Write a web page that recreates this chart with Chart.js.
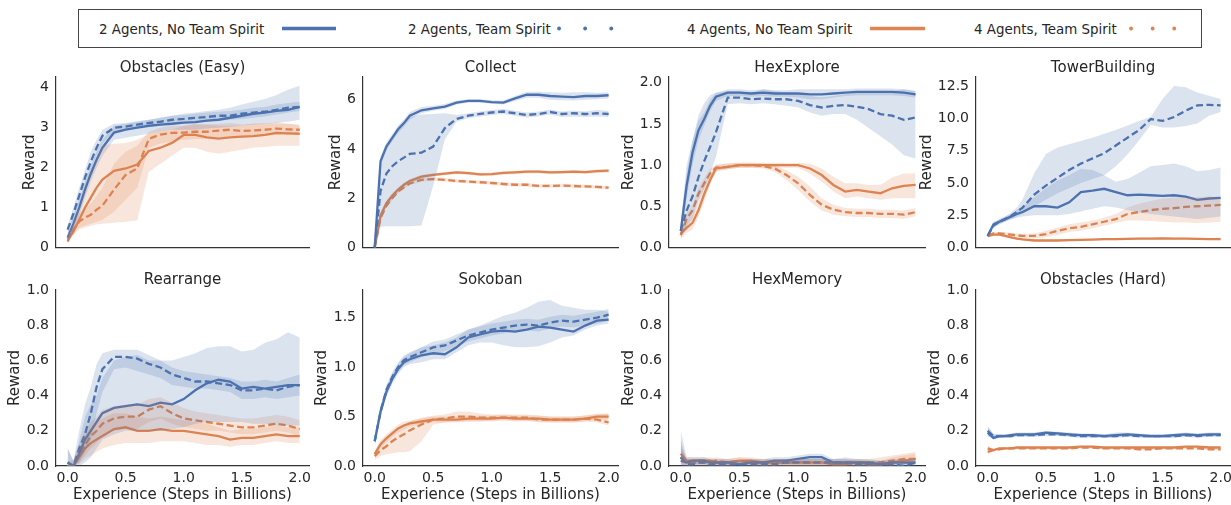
<!DOCTYPE html>
<html>
<head>
<meta charset="utf-8">
<script src="https://cdn.jsdelivr.net/npm/chart.js@4.4.1/dist/chart.umd.min.js"></script>
<style>
  body { margin: 0; width: 1231px; height: 505px; background: #fff; position: relative; overflow: hidden; font-family: "DejaVu Sans"; }
  #legendBox { position: absolute; left: 78px; top: 9px; width: 1124px; height: 39px; box-sizing: border-box; border: 1px solid #444; }
  .legText { position: absolute; top: 22px; font-size: 13.4px; line-height: 16px; color: #262626; white-space: nowrap; }
  #legendLines { position: absolute; left: 0; top: 0; }
</style>
</head>
<body>
<div id="legendBox"></div>
<svg id="legendLines" width="1231" height="60"></svg>
<script>
// x positions (billions of steps) shared by every curve
const steps = [0, 0.05, 0.1, 0.15, 0.2, 0.25, 0.3, 0.4, 0.5, 0.6, 0.7, 0.8, 0.9, 1.0, 1.1, 1.2, 1.3, 1.4, 1.5, 1.6, 1.7, 1.8, 1.9, 2.0];
const xTickLabels = ["0.0", "0.5", "1.0", "1.5", "2.0"];
const seriesNames = ["2 Agents, No Team Spirit", "2 Agents, Team Spirit", "4 Agents, No Team Spirit", "4 Agents, Team Spirit"];
const panelTitles = ["Obstacles (Easy)", "Collect", "HexExplore", "TowerBuilding", "Rearrange", "Sokoban", "HexMemory", "Obstacles (Hard)"];

// Obstacles (Easy)
const easyTicks = ["0", "1", "2", "3", "4"];
const easyA2 = [0.25, 0.6, 1.0, 1.45, 1.85, 2.2, 2.5, 2.88, 2.95, 3.0, 3.05, 3.08, 3.1, 3.13, 3.14, 3.18, 3.2, 3.25, 3.3, 3.35, 3.38, 3.42, 3.45, 3.52];
const easyA2Lo = [0.1, 0.4, 0.8, 1.25, 1.65, 2.0, 2.3, 2.7, 2.75, 2.8, 2.85, 2.9, 2.95, 2.95, 2.95, 2.98, 3.0, 3.02, 3.05, 3.08, 3.1, 3.12, 3.15, 3.2];
const easyA2Hi = [0.4, 0.8, 1.2, 1.65, 2.05, 2.4, 2.7, 3.05, 3.1, 3.15, 3.2, 3.25, 3.3, 3.35, 3.38, 3.42, 3.45, 3.5, 3.58, 3.65, 3.72, 3.82, 3.95, 4.05];
const easyA2ts = [0.45, 0.85, 1.3, 1.75, 2.15, 2.5, 2.8, 3.0, 3.03, 3.08, 3.12, 3.15, 3.2, 3.22, 3.25, 3.27, 3.3, 3.3, 3.35, 3.38, 3.4, 3.45, 3.5, 3.52];
const easyA2tsLo = [0.35, 0.7, 1.1, 1.5, 1.9, 2.3, 2.6, 2.9, 2.95, 3.0, 3.02, 3.05, 3.1, 3.12, 3.15, 3.15, 3.18, 3.2, 3.22, 3.25, 3.28, 3.33, 3.38, 3.42];
const easyA2tsHi = [0.55, 1.0, 1.5, 1.95, 2.4, 2.7, 2.95, 3.1, 3.12, 3.16, 3.2, 3.25, 3.3, 3.32, 3.35, 3.38, 3.4, 3.42, 3.45, 3.5, 3.52, 3.58, 3.62, 3.65];
const easyA4 = [0.2, 0.4, 0.7, 1.0, 1.25, 1.5, 1.7, 1.92, 1.98, 2.08, 2.42, 2.5, 2.62, 2.82, 2.82, 2.76, 2.73, 2.76, 2.78, 2.79, 2.82, 2.87, 2.86, 2.85];
const easyA4Lo = [0.15, 0.3, 0.45, 0.5, 0.55, 0.58, 0.6, 0.62, 0.65, 0.68, 1.9, 2.1, 2.3, 2.5, 2.5, 2.4, 2.35, 2.4, 2.45, 2.5, 2.52, 2.55, 2.55, 2.55];
const easyA4Hi = [0.3, 0.6, 1.0, 1.4, 1.8, 2.2, 2.55, 2.6, 2.62, 2.7, 2.85, 2.9, 2.95, 3.05, 3.1, 3.08, 3.05, 3.05, 3.05, 3.1, 3.12, 3.1, 3.1, 3.05];
const easyA4ts = [0.15, 0.45, 0.65, 0.75, 0.82, 0.95, 1.05, 1.45, 1.82, 1.98, 2.72, 2.83, 2.87, 2.88, 2.9, 2.9, 2.93, 2.95, 2.92, 2.93, 2.95, 2.98, 2.96, 2.95];
const easyA4tsLo = [0.1, 0.35, 0.5, 0.55, 0.6, 0.65, 0.7, 0.9, 1.2, 1.5, 2.5, 2.6, 2.65, 2.7, 2.72, 2.72, 2.75, 2.78, 2.75, 2.78, 2.8, 2.82, 2.82, 2.82];
const easyA4tsHi = [0.25, 0.6, 0.85, 1.0, 1.1, 1.3, 1.5, 2.1, 2.4, 2.55, 2.9, 3.0, 3.05, 3.05, 3.08, 3.08, 3.1, 3.12, 3.08, 3.1, 3.1, 3.14, 3.1, 3.08];

// Collect
const collectTicks = ["0", "2", "4", "6"];
const collectA2 = [0, 3.5, 4.1, 4.45, 4.8, 5.05, 5.35, 5.57, 5.65, 5.72, 5.88, 5.95, 5.95, 5.9, 5.88, 6.05, 6.2, 6.2, 6.15, 6.12, 6.1, 6.15, 6.15, 6.18];
const collectA2Lo = [0, 3.3, 3.95, 4.3, 4.65, 4.9, 5.2, 5.45, 5.55, 5.62, 5.8, 5.88, 5.88, 5.83, 5.8, 5.95, 6.08, 6.08, 6.0, 5.98, 5.97, 6.0, 6.02, 6.05];
const collectA2Hi = [0.1, 3.7, 4.25, 4.6, 4.95, 5.2, 5.5, 5.7, 5.75, 5.82, 5.97, 6.02, 6.02, 5.98, 5.97, 6.15, 6.32, 6.32, 6.3, 6.28, 6.3, 6.3, 6.28, 6.3];
const collectA2ts = [0, 2.3, 3.0, 3.3, 3.5, 3.65, 3.8, 3.85, 4.1, 4.85, 5.22, 5.35, 5.42, 5.48, 5.52, 5.45, 5.38, 5.42, 5.5, 5.42, 5.45, 5.42, 5.45, 5.42];
const collectA2tsLo = [0, 0.85, 0.87, 0.87, 0.87, 0.87, 0.87, 0.9, 2.5, 4.4, 5.1, 5.25, 5.32, 5.38, 5.42, 5.35, 5.28, 5.32, 5.4, 5.3, 5.32, 5.3, 5.32, 5.3];
const collectA2tsHi = [0.2, 3.3, 4.0, 4.4, 4.8, 5.05, 5.3, 5.4, 5.42, 5.45, 5.38, 5.45, 5.52, 5.58, 5.62, 5.55, 5.48, 5.52, 5.6, 5.52, 5.56, 5.52, 5.58, 5.55];
const collectA4 = [0, 1.3, 1.8, 2.1, 2.35, 2.55, 2.7, 2.88, 2.95, 3.0, 3.05, 3.02, 2.97, 2.98, 3.03, 3.05, 3.08, 3.08, 3.05, 3.06, 3.08, 3.06, 3.1, 3.12];
const collectA4Lo = [0, 1.2, 1.7, 2.0, 2.27, 2.47, 2.62, 2.8, 2.88, 2.93, 2.98, 2.95, 2.9, 2.91, 2.96, 2.98, 3.01, 3.01, 2.98, 2.99, 3.01, 2.99, 3.03, 3.05];
const collectA4Hi = [0.05, 1.4, 1.9, 2.2, 2.43, 2.63, 2.78, 2.96, 3.02, 3.07, 3.12, 3.09, 3.04, 3.05, 3.1, 3.12, 3.15, 3.15, 3.12, 3.13, 3.15, 3.13, 3.17, 3.19];
const collectA4ts = [0, 1.2, 1.7, 2.0, 2.28, 2.45, 2.6, 2.75, 2.78, 2.75, 2.7, 2.68, 2.65, 2.62, 2.58, 2.55, 2.55, 2.5, 2.5, 2.52, 2.5, 2.48, 2.46, 2.43];
const collectA4tsLo = [0, 1.1, 1.62, 1.93, 2.2, 2.38, 2.53, 2.68, 2.71, 2.68, 2.63, 2.61, 2.58, 2.55, 2.51, 2.48, 2.48, 2.43, 2.43, 2.45, 2.43, 2.41, 2.39, 2.36];
const collectA4tsHi = [0.05, 1.3, 1.78, 2.07, 2.36, 2.52, 2.67, 2.82, 2.85, 2.82, 2.77, 2.75, 2.72, 2.69, 2.65, 2.62, 2.62, 2.57, 2.57, 2.59, 2.57, 2.55, 2.53, 2.5];

// HexExplore
const hexExploreTicks = ["0.0", "0.5", "1.0", "1.5", "2.0"];
const hexExploreA2 = [0.2, 0.75, 1.15, 1.42, 1.56, 1.72, 1.83, 1.88, 1.88, 1.87, 1.88, 1.87, 1.87, 1.87, 1.86, 1.86, 1.87, 1.88, 1.89, 1.89, 1.89, 1.89, 1.88, 1.86];
const hexExploreA2Lo = [0.12, 0.6, 1.0, 1.3, 1.48, 1.65, 1.78, 1.84, 1.84, 1.83, 1.84, 1.83, 1.83, 1.82, 1.8, 1.8, 1.82, 1.84, 1.85, 1.85, 1.85, 1.85, 1.84, 1.82];
const hexExploreA2Hi = [0.28, 0.9, 1.3, 1.54, 1.64, 1.79, 1.88, 1.92, 1.92, 1.91, 1.92, 1.91, 1.91, 1.92, 1.92, 1.92, 1.92, 1.92, 1.93, 1.93, 1.93, 1.93, 1.92, 1.9];
const hexExploreA2ts = [0.2, 0.45, 0.62, 0.85, 1.05, 1.22, 1.4, 1.82, 1.82, 1.8, 1.81, 1.8, 1.8, 1.78, 1.73, 1.7, 1.72, 1.73, 1.71, 1.68, 1.62, 1.6, 1.55, 1.58];
const hexExploreA2tsLo = [0.12, 0.25, 0.35, 0.55, 0.72, 0.9, 1.1, 1.74, 1.75, 1.74, 1.75, 1.74, 1.72, 1.7, 1.64, 1.6, 1.62, 1.62, 1.55, 1.45, 1.35, 1.25, 1.12, 1.08];
const hexExploreA2tsHi = [0.3, 1.0, 1.3, 1.6, 1.75, 1.85, 1.88, 1.9, 1.9, 1.88, 1.92, 1.9, 1.88, 1.86, 1.84, 1.82, 1.84, 1.86, 1.88, 1.88, 1.88, 1.9, 1.92, 1.9];
const hexExploreA4 = [0.17, 0.24, 0.3, 0.45, 0.65, 0.82, 0.96, 0.98, 1.0, 1.0, 1.0, 1.0, 1.0, 1.0, 0.96, 0.88, 0.76, 0.68, 0.7, 0.68, 0.66, 0.72, 0.75, 0.76];
const hexExploreA4Lo = [0.1, 0.18, 0.22, 0.36, 0.56, 0.76, 0.92, 0.95, 0.97, 0.97, 0.97, 0.97, 0.97, 0.97, 0.9, 0.8, 0.68, 0.6, 0.62, 0.6, 0.58, 0.6, 0.6, 0.6];
const hexExploreA4Hi = [0.24, 0.3, 0.38, 0.54, 0.74, 0.88, 1.0, 1.02, 1.03, 1.03, 1.03, 1.03, 1.03, 1.03, 1.02, 0.96, 0.86, 0.78, 0.78, 0.76, 0.76, 0.85, 0.9, 0.9];
const hexExploreA4ts = [0.15, 0.35, 0.45, 0.65, 0.78, 0.9, 0.97, 0.98, 1.0, 1.0, 0.99, 0.96, 0.88, 0.78, 0.64, 0.52, 0.46, 0.43, 0.42, 0.42, 0.41, 0.41, 0.4, 0.43];
const hexExploreA4tsLo = [0.1, 0.28, 0.38, 0.57, 0.72, 0.85, 0.93, 0.95, 0.97, 0.97, 0.96, 0.92, 0.82, 0.7, 0.56, 0.45, 0.4, 0.38, 0.37, 0.37, 0.36, 0.36, 0.35, 0.38];
const hexExploreA4tsHi = [0.2, 0.42, 0.52, 0.72, 0.84, 0.95, 1.01, 1.02, 1.03, 1.03, 1.02, 1.0, 0.94, 0.86, 0.74, 0.6, 0.52, 0.48, 0.47, 0.47, 0.46, 0.46, 0.45, 0.48];

// TowerBuilding
const towerTicks = ["0.0", "2.5", "5.0", "7.5", "10.0", "12.5"];
const towerA2 = [0.9, 1.8, 2.0, 2.2, 2.4, 2.6, 2.75, 3.2, 3.2, 3.1, 3.5, 4.3, 4.4, 4.55, 4.3, 4.05, 4.1, 4.05, 4.0, 4.05, 3.95, 3.7, 3.8, 3.85];
const towerA2Lo = [0.8, 1.6, 1.8, 2.0, 2.2, 2.3, 2.4, 2.5, 2.5, 2.5, 2.6, 2.8, 3.0, 3.2, 3.1, 2.9, 2.7, 2.6, 2.5, 2.4, 2.3, 2.2, 2.3, 2.4];
const towerA2Hi = [1.0, 2.0, 2.2, 2.4, 2.6, 2.9, 3.2, 3.9, 4.6, 5.2, 5.6, 6.1, 6.0, 5.6, 5.1, 5.3, 5.8, 6.3, 6.4, 6.5, 6.3, 5.9, 6.0, 6.2];
const towerA2ts = [0.9, 1.7, 2.0, 2.2, 2.45, 2.75, 3.1, 4.1, 4.8, 5.4, 6.0, 6.5, 6.9, 7.3, 7.9, 8.5, 9.1, 9.95, 9.8, 10.1, 10.6, 11.0, 11.05, 11.0];
const towerA2tsLo = [0.8, 1.5, 1.8, 2.0, 2.2, 2.4, 2.6, 3.2, 3.7, 4.2, 4.6, 5.0, 5.3, 5.6, 6.3, 7.2, 8.3, 9.5, 9.3, 9.3, 9.4, 9.6, 10.2, 10.5];
const towerA2tsHi = [1.0, 1.9, 2.2, 2.4, 2.7, 3.1, 3.75, 5.75, 7.25, 7.75, 8.0, 8.25, 8.5, 8.8, 9.1, 9.45, 9.8, 10.1, 11.5, 12.5, 12.4, 12.0, 11.75, 11.5];
const towerA4 = [0.88, 1.0, 1.0, 0.9, 0.8, 0.7, 0.63, 0.55, 0.55, 0.55, 0.58, 0.6, 0.62, 0.65, 0.65, 0.68, 0.7, 0.7, 0.72, 0.7, 0.7, 0.68, 0.66, 0.65];
const towerA4Lo = [0.8, 0.92, 0.92, 0.82, 0.72, 0.62, 0.55, 0.47, 0.47, 0.47, 0.5, 0.52, 0.54, 0.57, 0.57, 0.6, 0.62, 0.62, 0.64, 0.62, 0.62, 0.6, 0.58, 0.57];
const towerA4Hi = [0.96, 1.08, 1.08, 0.98, 0.88, 0.78, 0.71, 0.63, 0.63, 0.63, 0.66, 0.68, 0.7, 0.73, 0.73, 0.76, 0.78, 0.78, 0.8, 0.78, 0.78, 0.76, 0.74, 0.73];
const towerA4ts = [0.9, 1.1, 1.1, 1.05, 1.0, 0.95, 0.9, 0.9, 1.05, 1.3, 1.5, 1.6, 1.8, 2.0, 2.2, 2.6, 2.75, 2.9, 3.0, 3.05, 3.15, 3.2, 3.25, 3.3];
const towerA4tsLo = [0.8, 1.0, 1.0, 0.9, 0.85, 0.8, 0.75, 0.7, 0.8, 1.0, 1.2, 1.3, 1.5, 1.7, 1.9, 2.1, 2.1, 2.05, 2.0, 1.95, 1.95, 1.9, 1.95, 2.0];
const towerA4tsHi = [1.0, 1.2, 1.2, 1.2, 1.15, 1.1, 1.05, 1.1, 1.3, 1.55, 1.8, 1.95, 2.1, 2.3, 2.6, 3.1, 3.4, 3.6, 3.8, 3.85, 3.9, 3.9, 3.95, 3.9];

// Rearrange
const rearrangeTicks = ["0.0", "0.2", "0.4", "0.6", "0.8", "1.0"];
const rearrangeA2 = [0.02, 0.0, 0.07, 0.15, 0.2, 0.25, 0.3, 0.33, 0.34, 0.35, 0.34, 0.36, 0.35, 0.38, 0.43, 0.47, 0.49, 0.48, 0.44, 0.45, 0.44, 0.45, 0.46, 0.46];
const rearrangeA2Lo = [0, 0, 0, 0.02, 0.05, 0.1, 0.15, 0.18, 0.2, 0.2, 0.2, 0.2, 0.21, 0.22, 0.24, 0.25, 0.25, 0.25, 0.25, 0.24, 0.24, 0.23, 0.23, 0.23];
const rearrangeA2Hi = [0.1, 0.03, 0.14, 0.28, 0.35, 0.4, 0.5, 0.6, 0.62, 0.63, 0.6, 0.6, 0.6, 0.62, 0.64, 0.67, 0.68, 0.68, 0.65, 0.66, 0.7, 0.72, 0.76, 0.73];
const rearrangeA2ts = [0.02, 0.0, 0.1, 0.18, 0.3, 0.45, 0.55, 0.62, 0.62, 0.61, 0.58, 0.56, 0.52, 0.5, 0.48, 0.48, 0.47, 0.46, 0.43, 0.43, 0.44, 0.43, 0.45, 0.46];
const rearrangeA2tsLo = [0, 0, 0.02, 0.08, 0.15, 0.3, 0.42, 0.55, 0.56, 0.54, 0.52, 0.5, 0.46, 0.45, 0.44, 0.44, 0.43, 0.42, 0.38, 0.38, 0.39, 0.38, 0.39, 0.4];
const rearrangeA2tsHi = [0.1, 0.03, 0.2, 0.35, 0.45, 0.58, 0.64, 0.66, 0.66, 0.66, 0.63, 0.6, 0.56, 0.54, 0.53, 0.52, 0.51, 0.5, 0.48, 0.48, 0.49, 0.48, 0.5, 0.52];
const rearrangeA4 = [0.0, 0.0, 0.05, 0.1, 0.13, 0.15, 0.17, 0.21, 0.22, 0.2, 0.2, 0.21, 0.2, 0.2, 0.19, 0.18, 0.17, 0.15, 0.16, 0.16, 0.17, 0.18, 0.17, 0.17];
const rearrangeA4Lo = [0, 0, 0.01, 0.04, 0.06, 0.08, 0.1, 0.12, 0.13, 0.13, 0.13, 0.14, 0.14, 0.14, 0.13, 0.12, 0.12, 0.11, 0.12, 0.12, 0.13, 0.14, 0.13, 0.13];
const rearrangeA4Hi = [0.02, 0.02, 0.1, 0.17, 0.22, 0.25, 0.27, 0.3, 0.3, 0.28, 0.27, 0.28, 0.27, 0.26, 0.25, 0.24, 0.22, 0.2, 0.21, 0.21, 0.22, 0.23, 0.22, 0.22];
const rearrangeA4ts = [0.0, 0.0, 0.06, 0.12, 0.17, 0.2, 0.24, 0.27, 0.28, 0.28, 0.32, 0.34, 0.3, 0.27, 0.26, 0.25, 0.24, 0.23, 0.22, 0.22, 0.23, 0.24, 0.23, 0.21];
const rearrangeA4tsLo = [0, 0, 0.02, 0.06, 0.1, 0.13, 0.17, 0.2, 0.21, 0.21, 0.25, 0.27, 0.24, 0.22, 0.21, 0.2, 0.2, 0.19, 0.18, 0.18, 0.19, 0.2, 0.19, 0.17];
const rearrangeA4tsHi = [0.03, 0.03, 0.12, 0.2, 0.25, 0.28, 0.32, 0.34, 0.35, 0.35, 0.38, 0.39, 0.36, 0.33, 0.31, 0.3, 0.29, 0.28, 0.27, 0.27, 0.28, 0.29, 0.28, 0.26];

// Sokoban
const sokobanTicks = ["0.0", "0.5", "1.0", "1.5"];
const sokobanA2 = [0.25, 0.55, 0.75, 0.88, 0.98, 1.05, 1.08, 1.12, 1.14, 1.13, 1.2, 1.3, 1.33, 1.36, 1.37, 1.36, 1.38, 1.41, 1.4, 1.38, 1.36, 1.42, 1.47, 1.48];
const sokobanA2Lo = [0.2, 0.5, 0.7, 0.83, 0.93, 1.0, 1.03, 1.05, 1.08, 1.08, 1.15, 1.22, 1.25, 1.25, 1.22, 1.2, 1.2, 1.21, 1.25, 1.3, 1.32, 1.38, 1.42, 1.44];
const sokobanA2Hi = [0.3, 0.6, 0.8, 0.93, 1.03, 1.1, 1.14, 1.2, 1.22, 1.25, 1.3, 1.38, 1.42, 1.47, 1.52, 1.55, 1.6, 1.66, 1.68, 1.62, 1.6, 1.58, 1.58, 1.56];
const sokobanA2ts = [0.25, 0.55, 0.77, 0.9, 1.0, 1.07, 1.1, 1.15, 1.2, 1.22, 1.27, 1.32, 1.35, 1.38, 1.4, 1.42, 1.43, 1.42, 1.45, 1.47, 1.46, 1.48, 1.5, 1.53];
const sokobanA2tsLo = [0.2, 0.5, 0.72, 0.85, 0.95, 1.02, 1.05, 1.1, 1.14, 1.16, 1.21, 1.26, 1.29, 1.32, 1.34, 1.36, 1.37, 1.36, 1.39, 1.41, 1.4, 1.42, 1.44, 1.47];
const sokobanA2tsHi = [0.3, 0.6, 0.82, 0.95, 1.05, 1.12, 1.15, 1.2, 1.26, 1.28, 1.33, 1.38, 1.41, 1.44, 1.46, 1.48, 1.49, 1.48, 1.51, 1.53, 1.52, 1.54, 1.56, 1.59];
const sokobanA4 = [0.12, 0.22, 0.28, 0.33, 0.38, 0.41, 0.43, 0.45, 0.47, 0.47, 0.47, 0.48, 0.48, 0.48, 0.49, 0.48, 0.48, 0.48, 0.47, 0.47, 0.47, 0.48, 0.5, 0.5];
const sokobanA4Lo = [0.09, 0.18, 0.24, 0.29, 0.34, 0.37, 0.4, 0.42, 0.44, 0.44, 0.44, 0.45, 0.45, 0.45, 0.46, 0.45, 0.45, 0.45, 0.44, 0.44, 0.44, 0.45, 0.47, 0.47];
const sokobanA4Hi = [0.15, 0.26, 0.32, 0.37, 0.42, 0.45, 0.46, 0.48, 0.5, 0.5, 0.5, 0.51, 0.51, 0.51, 0.52, 0.51, 0.51, 0.51, 0.5, 0.5, 0.5, 0.51, 0.53, 0.53];
const sokobanA4ts = [0.1, 0.16, 0.2, 0.25, 0.29, 0.32, 0.36, 0.42, 0.47, 0.48, 0.5, 0.5, 0.49, 0.49, 0.49, 0.49, 0.49, 0.47, 0.47, 0.47, 0.47, 0.48, 0.47, 0.44];
const sokobanA4tsLo = [0.06, 0.1, 0.12, 0.13, 0.14, 0.14, 0.15, 0.25, 0.42, 0.44, 0.45, 0.45, 0.45, 0.46, 0.46, 0.46, 0.46, 0.44, 0.44, 0.44, 0.44, 0.45, 0.44, 0.41];
const sokobanA4tsHi = [0.14, 0.24, 0.3, 0.35, 0.38, 0.42, 0.45, 0.49, 0.51, 0.52, 0.55, 0.55, 0.53, 0.52, 0.52, 0.52, 0.52, 0.51, 0.5, 0.5, 0.5, 0.51, 0.52, 0.53];

// HexMemory
const hexMemoryTicks = ["0.0", "0.2", "0.4", "0.6", "0.8", "1.0"];
const hexMemoryA2 = [0.03, 0.02, 0.03, 0.03, 0.03, 0.02, 0.02, 0.02, 0.01, 0.02, 0.02, 0.03, 0.03, 0.04, 0.05, 0.05, 0.02, 0.02, 0.02, 0.02, 0.01, 0.02, 0.02, 0.02];
const hexMemoryA2Lo = [0.0, 0.0, 0.01, 0.01, 0.01, 0.0, 0.0, 0.0, 0.0, 0.0, 0.0, 0.01, 0.01, 0.02, 0.03, 0.03, 0.0, 0.0, 0.0, 0.0, 0.0, 0.0, 0.0, 0.0];
const hexMemoryA2Hi = [0.2, 0.05, 0.05, 0.05, 0.05, 0.04, 0.04, 0.04, 0.03, 0.04, 0.04, 0.05, 0.05, 0.06, 0.07, 0.07, 0.04, 0.05, 0.04, 0.04, 0.03, 0.04, 0.04, 0.04];
const hexMemoryA2ts = [0.05, 0.01, 0.01, 0.02, 0.02, 0.01, 0.01, 0.01, 0.01, 0.01, 0.01, 0.01, 0.02, 0.02, 0.02, 0.02, 0.02, 0.02, 0.01, 0.01, 0.01, 0.01, 0.0, 0.02];
const hexMemoryA2tsLo = [0, 0, 0, 0, 0, 0, 0, 0, 0, 0, 0, 0, 0, 0, 0, 0, 0, 0, 0, 0, 0, 0, 0, 0];
const hexMemoryA2tsHi = [0.15, 0.03, 0.03, 0.04, 0.04, 0.03, 0.03, 0.03, 0.03, 0.03, 0.03, 0.03, 0.04, 0.04, 0.04, 0.04, 0.04, 0.04, 0.03, 0.03, 0.03, 0.03, 0.02, 0.04];
const hexMemoryA4 = [0.07, 0.03, 0.03, 0.03, 0.03, 0.03, 0.02, 0.02, 0.03, 0.03, 0.02, 0.02, 0.02, 0.02, 0.02, 0.02, 0.01, 0.01, 0.02, 0.01, 0.01, 0.02, 0.03, 0.04];
const hexMemoryA4Lo = [0.02, 0.01, 0.01, 0.01, 0.01, 0.01, 0.0, 0.0, 0.01, 0.01, 0.0, 0.0, 0.0, 0.0, 0.0, 0.0, 0.0, 0.0, 0.0, 0.0, 0.0, 0.0, 0.01, 0.02];
const hexMemoryA4Hi = [0.12, 0.05, 0.05, 0.05, 0.05, 0.05, 0.04, 0.04, 0.05, 0.05, 0.04, 0.04, 0.04, 0.04, 0.04, 0.04, 0.03, 0.03, 0.04, 0.03, 0.03, 0.05, 0.06, 0.07];
const hexMemoryA4ts = [0.05, 0.02, 0.02, 0.02, 0.02, 0.02, 0.03, 0.02, 0.03, 0.02, 0.02, 0.02, 0.02, 0.02, 0.02, 0.02, 0.02, 0.02, 0.02, 0.02, 0.02, 0.03, 0.04, 0.04];
const hexMemoryA4tsLo = [0.01, 0.0, 0.0, 0.0, 0.0, 0.0, 0.01, 0.0, 0.01, 0.0, 0.0, 0.0, 0.0, 0.0, 0.0, 0.0, 0.0, 0.0, 0.0, 0.0, 0.0, 0.01, 0.02, 0.02];
const hexMemoryA4tsHi = [0.1, 0.04, 0.04, 0.04, 0.04, 0.04, 0.05, 0.04, 0.05, 0.04, 0.04, 0.04, 0.04, 0.04, 0.04, 0.04, 0.04, 0.04, 0.04, 0.04, 0.05, 0.06, 0.07, 0.08];

// Obstacles (Hard)
const hardTicks = ["0.0", "0.2", "0.4", "0.6", "0.8", "1.0"];
const hardA2 = [0.19, 0.16, 0.17, 0.17, 0.175, 0.18, 0.18, 0.18, 0.19, 0.185, 0.18, 0.175, 0.175, 0.17, 0.175, 0.18, 0.175, 0.17, 0.17, 0.175, 0.18, 0.175, 0.18, 0.18];
const hardA2Lo = [0.17, 0.15, 0.16, 0.16, 0.165, 0.17, 0.17, 0.17, 0.18, 0.175, 0.17, 0.165, 0.165, 0.16, 0.165, 0.17, 0.165, 0.16, 0.16, 0.165, 0.17, 0.165, 0.17, 0.17];
const hardA2Hi = [0.22, 0.18, 0.18, 0.18, 0.185, 0.19, 0.19, 0.19, 0.2, 0.195, 0.19, 0.185, 0.185, 0.18, 0.19, 0.19, 0.185, 0.18, 0.18, 0.185, 0.19, 0.185, 0.19, 0.19];
const hardA2ts = [0.2, 0.17, 0.17, 0.17, 0.17, 0.175, 0.175, 0.175, 0.18, 0.18, 0.175, 0.17, 0.17, 0.17, 0.17, 0.175, 0.17, 0.17, 0.17, 0.17, 0.175, 0.17, 0.175, 0.175];
const hardA2tsLo = [0.17, 0.16, 0.16, 0.16, 0.16, 0.165, 0.165, 0.165, 0.17, 0.17, 0.165, 0.16, 0.16, 0.16, 0.16, 0.165, 0.16, 0.16, 0.16, 0.16, 0.165, 0.16, 0.165, 0.165];
const hardA2tsHi = [0.23, 0.18, 0.18, 0.18, 0.18, 0.185, 0.185, 0.185, 0.19, 0.19, 0.185, 0.18, 0.18, 0.18, 0.18, 0.185, 0.18, 0.18, 0.18, 0.18, 0.185, 0.18, 0.185, 0.185];
const hardA4 = [0.1, 0.09, 0.1, 0.1, 0.1, 0.105, 0.105, 0.105, 0.105, 0.105, 0.105, 0.11, 0.11, 0.105, 0.105, 0.105, 0.105, 0.105, 0.105, 0.105, 0.11, 0.11, 0.105, 0.105];
const hardA4Lo = [0.08, 0.085, 0.095, 0.095, 0.095, 0.1, 0.1, 0.1, 0.1, 0.1, 0.1, 0.105, 0.105, 0.1, 0.1, 0.1, 0.1, 0.1, 0.1, 0.1, 0.105, 0.105, 0.1, 0.1];
const hardA4Hi = [0.12, 0.095, 0.105, 0.105, 0.105, 0.11, 0.11, 0.11, 0.11, 0.11, 0.11, 0.115, 0.115, 0.11, 0.11, 0.11, 0.11, 0.11, 0.11, 0.11, 0.115, 0.115, 0.11, 0.11];
const hardA4ts = [0.08, 0.09, 0.095, 0.1, 0.1, 0.1, 0.1, 0.1, 0.1, 0.1, 0.1, 0.105, 0.105, 0.1, 0.1, 0.1, 0.095, 0.095, 0.1, 0.1, 0.1, 0.1, 0.095, 0.095];
const hardA4tsLo = [0.07, 0.085, 0.09, 0.095, 0.095, 0.095, 0.095, 0.095, 0.095, 0.095, 0.095, 0.1, 0.1, 0.095, 0.095, 0.095, 0.09, 0.09, 0.095, 0.095, 0.095, 0.095, 0.09, 0.09];
const hardA4tsHi = [0.1, 0.095, 0.1, 0.105, 0.105, 0.105, 0.105, 0.105, 0.105, 0.105, 0.105, 0.11, 0.11, 0.105, 0.105, 0.105, 0.1, 0.1, 0.105, 0.105, 0.105, 0.105, 0.1, 0.1];

// panel table built from the arrays above
const panels = [
  { ticks: easyTicks, yMax: 4.27, mean: [easyA2, easyA2ts, easyA4, easyA4ts], lo: [easyA2Lo, easyA2tsLo, easyA4Lo, easyA4tsLo], hi: [easyA2Hi, easyA2tsHi, easyA4Hi, easyA4tsHi] },
  { ticks: collectTicks, yMax: 6.92, mean: [collectA2, collectA2ts, collectA4, collectA4ts], lo: [collectA2Lo, collectA2tsLo, collectA4Lo, collectA4tsLo], hi: [collectA2Hi, collectA2tsHi, collectA4Hi, collectA4tsHi] },
  { ticks: hexExploreTicks, yMax: 2.07, mean: [hexExploreA2, hexExploreA2ts, hexExploreA4, hexExploreA4ts], lo: [hexExploreA2Lo, hexExploreA2tsLo, hexExploreA4Lo, hexExploreA4tsLo], hi: [hexExploreA2Hi, hexExploreA2tsHi, hexExploreA4Hi, hexExploreA4tsHi] },
  { ticks: towerTicks, yMax: 13.2, mean: [towerA2, towerA2ts, towerA4, towerA4ts], lo: [towerA2Lo, towerA2tsLo, towerA4Lo, towerA4tsLo], hi: [towerA2Hi, towerA2tsHi, towerA4Hi, towerA4tsHi] },
  { ticks: rearrangeTicks, yMax: 1.0, mean: [rearrangeA2, rearrangeA2ts, rearrangeA4, rearrangeA4ts], lo: [rearrangeA2Lo, rearrangeA2tsLo, rearrangeA4Lo, rearrangeA4tsLo], hi: [rearrangeA2Hi, rearrangeA2tsHi, rearrangeA4Hi, rearrangeA4tsHi] },
  { ticks: sokobanTicks, yMax: 1.78, mean: [sokobanA2, sokobanA2ts, sokobanA4, sokobanA4ts], lo: [sokobanA2Lo, sokobanA2tsLo, sokobanA4Lo, sokobanA4tsLo], hi: [sokobanA2Hi, sokobanA2tsHi, sokobanA4Hi, sokobanA4tsHi] },
  { ticks: hexMemoryTicks, yMax: 1.0, mean: [hexMemoryA2, hexMemoryA2ts, hexMemoryA4, hexMemoryA4ts], lo: [hexMemoryA2Lo, hexMemoryA2tsLo, hexMemoryA4Lo, hexMemoryA4tsLo], hi: [hexMemoryA2Hi, hexMemoryA2tsHi, hexMemoryA4Hi, hexMemoryA4tsHi] },
  { ticks: hardTicks, yMax: 1.0, mean: [hardA2, hardA2ts, hardA4, hardA4ts], lo: [hardA2Lo, hardA2tsLo, hardA4Lo, hardA4tsLo], hi: [hardA2Hi, hardA2tsHi, hardA4Hi, hardA4tsHi] }
];

// styles
const FONT = "DejaVu Sans";
const TEXT = "#262626";
const lineColors = ["#4c72b0", "#4c72b0", "#dd8452", "#dd8452"];
const bandColors = ["rgba(76,114,176,0.2)", "rgba(76,114,176,0.2)", "rgba(221,132,82,0.2)", "rgba(221,132,82,0.2)"];
const lineDash = [[], [7, 3.5], [], [7, 3.5]];

// layout in page pixels
const axisLeft = [56, 363, 669, 976];
const axisRight = [309, 618, 925, 1230];
const rowTop = [50, 262];
const yLabelCenter = [[44, 43, 30, 21], [29.5, 29, 30, 29]];
const Y_BOX = 70;

Chart.defaults.font.family = FONT;
Chart.defaults.color = TEXT;

function pts(arr) {
  return steps.map(function (x, i) { return { x: x, y: arr[i] }; });
}

panels.forEach(function (p, idx) {
  const row = Math.floor(idx / 4), col = idx % 4;
  const left = axisLeft[col] - Y_BOX;
  const width = axisRight[col] - left + 8;
  const height = row === 0 ? 213 : 243;

  const canvas = document.createElement("canvas");
  canvas.width = width;
  canvas.height = height;
  canvas.style.cssText = "position:absolute;left:" + left + "px;top:" + rowTop[row] + "px;width:" + width + "px;height:" + height + "px";
  document.body.appendChild(canvas);

  const datasets = [];
  // shaded bands first so every line sits on top
  for (let i = 0; i < 4; i++) {
    datasets.push({ data: pts(p.lo[i]), borderWidth: 0, borderColor: "rgba(0,0,0,0)", pointRadius: 0, fill: false });
    datasets.push({ data: pts(p.hi[i]), borderWidth: 0, borderColor: "rgba(0,0,0,0)", pointRadius: 0, fill: "-1", backgroundColor: bandColors[i] });
  }
  for (let i = 0; i < 4; i++) {
    datasets.push({ label: seriesNames[i], data: pts(p.mean[i]), borderColor: lineColors[i], borderWidth: 2.3, borderDash: lineDash[i], pointRadius: 0, fill: false });
  }

  const yVals = p.ticks.map(parseFloat);

  new Chart(canvas.getContext("2d"), {
    type: "line",
    data: { datasets: datasets },
    options: {
      responsive: false,
      animation: false,
      devicePixelRatio: 1,
      layout: { padding: { left: 0, top: 0, right: 8, bottom: row === 0 ? 10 : 0 } },
      plugins: {
        legend: { display: false },
        tooltip: { enabled: false },
        title: {
          display: true,
          fullSize: false,
          text: panelTitles[idx],
          color: TEXT,
          font: { size: 15, weight: "normal" },
          padding: { top: 9, bottom: row === 0 ? 0 : 1 }
        }
      },
      scales: {
        x: {
          type: "linear",
          min: -0.1,
          max: 2.08,
          afterBuildTicks: function (s) { s.ticks = xTickLabels.map(function (t) { return { value: parseFloat(t) }; }); },
          afterFit: function (s) { s.height = row === 0 ? 0 : 39; },
          grid: { display: false, drawTicks: false },
          border: { display: true, color: "#333", width: 1.2 },
          ticks: {
            display: row === 1,
            padding: 4,
            maxRotation: 0,
            autoSkip: false,
            color: TEXT,
            font: { size: 14 },
            callback: function (v, i) { return xTickLabels[i]; }
          },
          title: {
            display: row === 1,
            text: "Experience (Steps in Billions)",
            color: TEXT,
            font: { size: 15 },
            padding: { top: 0, bottom: 1 }
          }
        },
        y: {
          min: 0,
          max: p.yMax,
          afterBuildTicks: function (s) { s.ticks = yVals.map(function (v) { return { value: v }; }); },
          afterFit: function (s) { s.width = Y_BOX; },
          grid: { display: false, drawTicks: false },
          border: { display: true, color: "#333", width: 1.2 },
          ticks: {
            padding: 7,
            autoSkip: false,
            color: TEXT,
            font: { size: 14 },
            callback: function (v, i) { return p.ticks[i]; }
          },
          title: {
            display: true,
            text: "Reward",
            color: TEXT,
            font: { size: 15 },
            padding: { top: yLabelCenter[row][col] - 9, bottom: 0 }
          }
        }
      }
    }
  });
});

// legend: text items and line samples
const legendTextX = [99, 408, 687, 974];
const legendHandle = [[282, 336], [559, 612], [870, 925], [1131, 1175]];
const legendDash = ["", "0.1 26", "", "0.1 21.5"];
const svg = document.getElementById("legendLines");
seriesNames.forEach(function (name, i) {
  const span = document.createElement("span");
  span.className = "legText";
  span.style.left = legendTextX[i] + "px";
  span.textContent = name;
  document.body.appendChild(span);

  const ln = document.createElementNS("http://www.w3.org/2000/svg", "line");
  ln.setAttribute("x1", legendHandle[i][0]);
  ln.setAttribute("x2", legendHandle[i][1]);
  ln.setAttribute("y1", 28.5);
  ln.setAttribute("y2", 28.5);
  ln.setAttribute("stroke", lineColors[i]);
  ln.setAttribute("stroke-width", legendDash[i] ? 3.8 : 3.3);
  if (legendDash[i]) {
    ln.setAttribute("stroke-dasharray", legendDash[i]);
    ln.setAttribute("stroke-linecap", "round");
  }
  svg.appendChild(ln);
});
</script>
</body>
</html>
